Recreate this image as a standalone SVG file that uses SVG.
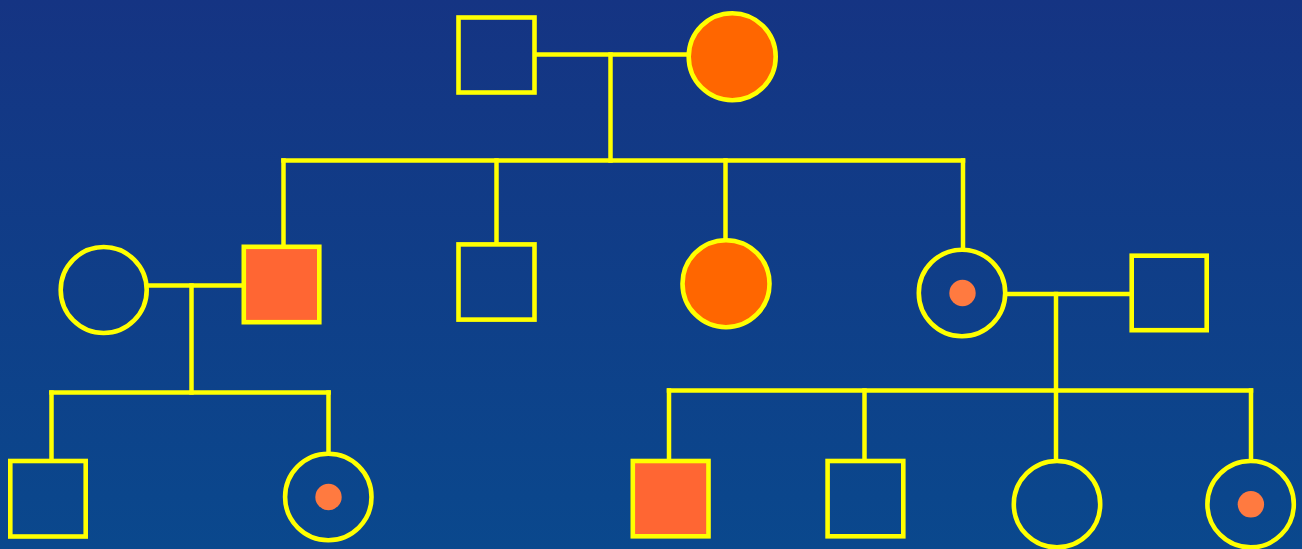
<svg xmlns="http://www.w3.org/2000/svg" width="1302" height="549" viewBox="0 0 1302 549">
  <defs>
    <linearGradient id="bg" x1="0" y1="0" x2="0" y2="1">
      <stop offset="0" stop-color="#153483"/>
      <stop offset="1" stop-color="#0A488D"/>
    </linearGradient>
    <style>
      .ln { stroke: #FFFF00; stroke-width: 4.5; fill: none; stroke-linecap: square; }
      .sq { stroke: #FFFF00; stroke-width: 4.6; fill: none; }
      .ci { stroke: #FFFF00; stroke-width: 4.6; fill: none; }
      .aff-sq { fill: #FF6633; }
      .aff-ci { fill: #FF6600; }
      .dot { fill: #FF7A40; stroke: none; }
    </style>
  </defs>
  <rect x="0" y="0" width="1302" height="549" fill="url(#bg)"/>

  <g id="connectors">
    <!-- generation I marriage -->
    <line class="ln" x1="536" y1="54.5" x2="688" y2="54.5"/>
    <line class="ln" x1="610.5" y1="54.5" x2="610.5" y2="160.5"/>
    <line class="ln" x1="283.5" y1="160.5" x2="963" y2="160.5"/>
    <line class="ln" x1="283.5" y1="160.5" x2="283.5" y2="245"/>
    <line class="ln" x1="496.5" y1="160.5" x2="496.5" y2="243"/>
    <line class="ln" x1="725.5" y1="160.5" x2="725.5" y2="239"/>
    <line class="ln" x1="963" y1="160.5" x2="963" y2="249"/>
    <!-- left marriage -->
    <line class="ln" x1="148" y1="285.5" x2="242" y2="285.5"/>
    <line class="ln" x1="191.5" y1="285.5" x2="191.5" y2="392.5"/>
    <line class="ln" x1="51.5" y1="392.5" x2="328.5" y2="392.5"/>
    <line class="ln" x1="51.5" y1="392.5" x2="51.5" y2="460"/>
    <line class="ln" x1="328.5" y1="392.5" x2="328.5" y2="453"/>
    <!-- right marriage -->
    <line class="ln" x1="1006" y1="294" x2="1130" y2="294"/>
    <line class="ln" x1="1056" y1="294" x2="1056" y2="390.5"/>
    <line class="ln" x1="669" y1="390.5" x2="1251" y2="390.5"/>
    <line class="ln" x1="669" y1="390.5" x2="669" y2="460"/>
    <line class="ln" x1="864.5" y1="390.5" x2="864.5" y2="460"/>
    <line class="ln" x1="1056" y1="390.5" x2="1056" y2="460"/>
    <line class="ln" x1="1251" y1="390.5" x2="1251" y2="460"/>
  </g>

  <g id="I-1"><rect class="sq" x="458.5" y="17.5" width="76" height="75"/></g>
  <g id="I-2"><circle class="ci aff-ci" cx="732.2" cy="56.7" r="43.5"/></g>

  <g id="II-spouse-left"><circle class="ci" cx="103.7" cy="290" r="43"/></g>
  <g id="II-1"><rect class="sq aff-sq" x="243.8" y="246.8" width="75.5" height="75.4"/></g>
  <g id="II-2"><rect class="sq" x="458.5" y="244.4" width="76" height="75.2"/></g>
  <g id="II-3"><circle class="ci aff-ci" cx="726" cy="283.7" r="43.5"/></g>
  <g id="II-4">
    <circle class="ci" cx="962" cy="293" r="43.2"/>
    <circle class="dot" cx="962.5" cy="293" r="13.2"/>
  </g>
  <g id="II-spouse-right"><rect class="sq" x="1131.7" y="255.7" width="75" height="74.5"/></g>

  <g id="III-1"><rect class="sq" x="10.3" y="461" width="75.4" height="75.5"/></g>
  <g id="III-2">
    <circle class="ci" cx="328.3" cy="497" r="43.2"/>
    <circle class="dot" cx="328.5" cy="497" r="13.2"/>
  </g>
  <g id="III-3"><rect class="sq aff-sq" x="632.8" y="461" width="75.7" height="75.3"/></g>
  <g id="III-4"><rect class="sq" x="827.6" y="461" width="75.7" height="75.3"/></g>
  <g id="III-5"><circle class="ci" cx="1057" cy="504.2" r="43.2"/></g>
  <g id="III-6">
    <circle class="ci" cx="1250.6" cy="504.2" r="43.2"/>
    <circle class="dot" cx="1250.9" cy="504.3" r="13.2"/>
  </g>
</svg>
